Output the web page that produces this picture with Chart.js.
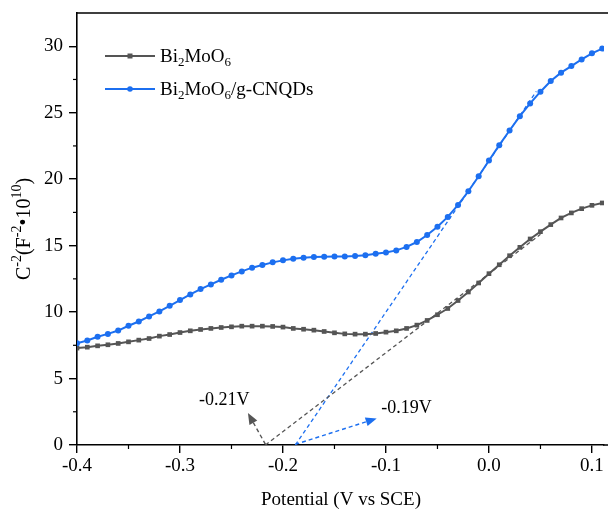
<!DOCTYPE html>
<html>
<head>
<meta charset="utf-8">
<script src="https://cdn.jsdelivr.net/npm/chart.js@4.4.1/dist/chart.umd.min.js"></script>
<style>
  html, body { margin: 0; padding: 0; background: #fff; }
  #wrap { width: 608px; height: 517px; }
</style>
</head>
<body>
<div id="wrap"><canvas id="myChart" width="608" height="517"></canvas></div>
<script>
// potential (V vs SCE)
const potential = [-0.40, -0.39, -0.38, -0.37, -0.36, -0.35, -0.34, -0.33, -0.32, -0.31,
  -0.30, -0.29, -0.28, -0.27, -0.26, -0.25, -0.24, -0.23, -0.22, -0.21,
  -0.20, -0.19, -0.18, -0.17, -0.16, -0.15, -0.14, -0.13, -0.12, -0.11,
  -0.10, -0.09, -0.08, -0.07, -0.06, -0.05, -0.04, -0.03, -0.02, -0.01,
  0.00, 0.01, 0.02, 0.03, 0.04, 0.05, 0.06, 0.07, 0.08, 0.09, 0.10, 0.11];

const bi2moo6 = [7.29, 7.36, 7.46, 7.54, 7.64, 7.76, 7.89, 8.01, 8.19, 8.31,
  8.46, 8.59, 8.69, 8.77, 8.84, 8.89, 8.94, 8.94, 8.94, 8.92,
  8.87, 8.77, 8.71, 8.64, 8.54, 8.44, 8.36, 8.34, 8.34, 8.39,
  8.49, 8.59, 8.77, 9.02, 9.37, 9.80, 10.27, 10.87, 11.51, 12.19,
  12.89, 13.56, 14.24, 14.87, 15.50, 16.05, 16.58, 17.08, 17.46, 17.78, 18.03, 18.21];

const bi2moo6Cnqds = [7.66, 7.86, 8.14, 8.36, 8.61, 8.97, 9.29, 9.67, 10.05, 10.47,
  10.90, 11.33, 11.73, 12.08, 12.43, 12.76, 13.06, 13.34, 13.54, 13.74,
  13.89, 14.02, 14.09, 14.14, 14.17, 14.19, 14.19, 14.22, 14.27, 14.39,
  14.49, 14.64, 14.90, 15.27, 15.80, 16.42, 17.16, 18.06, 19.09, 20.22,
  21.40, 22.56, 23.66, 24.74, 25.70, 26.58, 27.38, 28.01, 28.51, 29.01, 29.47, 29.82];

// tangent lines [x, y]
const grayTangent = [[-0.217, 0], [0.05, 15.85]];
const blueTangent = [[-0.188, 0], [0.046, 26.6]];

// arrows: from, to
const grayArrow = [[-0.217, 0.05], [-0.234, 2.4]];
const blueArrow = [[-0.188, 0.05], [-0.109, 2.0]];

// annotation labels [text, x, y]
const annoLabels = [['-0.21V', -0.257, 3.39], ['-0.19V', -0.080, 2.79]];

const xTicks = [-0.4, -0.3, -0.2, -0.1, 0.0, 0.1];
const yTicks = [0, 5, 10, 15, 20, 25, 30];

const GRAY = '#555555';
const BLUE = '#1c6ff0';
const FONT = '"Liberation Serif", "Times New Roman", serif';

function toXY(arr) {
  return arr.map(function (p) { return { x: p[0], y: p[1] }; });
}

// draws text with sub/superscript parts: [text, kind] kind 0 normal, 1 sub, 2 sup
function drawRich(ctx, parts, x, y, size) {
  let cx = x;
  parts.forEach(function (p) {
    const small = p[1] !== 0;
    ctx.font = (small ? Math.round(size * 0.68) : size) + 'px ' + FONT;
    let dy = 0;
    if (p[1] === 1) dy = size * 0.3;
    if (p[1] === 2) dy = -size * 0.38;
    ctx.fillText(p[0], cx, y + dy);
    cx += ctx.measureText(p[0]).width;
  });
  return cx - x;
}
function richWidth(ctx, parts, size) {
  let w = 0;
  parts.forEach(function (p) {
    ctx.font = (p[1] !== 0 ? Math.round(size * 0.68) : size) + 'px ' + FONT;
    w += ctx.measureText(p[0]).width;
  });
  return w;
}

function arrow(ctx, from, to, color) {
  const ang = Math.atan2(to[1] - from[1], to[0] - from[0]);
  const len = 11, half = 4.5;
  const bx = to[0] - len * Math.cos(ang), by = to[1] - len * Math.sin(ang);
  ctx.strokeStyle = color;
  ctx.lineWidth = 1.4;
  ctx.setLineDash([4, 3]);
  ctx.beginPath();
  ctx.moveTo(from[0], from[1]);
  ctx.lineTo(bx, by);
  ctx.stroke();
  ctx.setLineDash([]);
  ctx.fillStyle = color;
  ctx.beginPath();
  ctx.moveTo(to[0], to[1]);
  ctx.lineTo(bx + half * Math.sin(ang), by - half * Math.cos(ang));
  ctx.lineTo(bx - half * Math.sin(ang), by + half * Math.cos(ang));
  ctx.closePath();
  ctx.fill();
}

const extras = {
  id: 'extras',
  afterDraw(chart) {
    const ctx = chart.ctx;
    const xs = chart.scales.x, ys = chart.scales.y;
    const area = chart.chartArea;
    ctx.save();

    // top frame line, and bottom axis carried to the canvas edge
    ctx.strokeStyle = '#000';
    ctx.lineWidth = 1.6;
    ctx.beginPath();
    ctx.moveTo(area.left, area.top);
    ctx.lineTo(chart.width, area.top);
    ctx.moveTo(area.right - 1, area.bottom);
    ctx.lineTo(chart.width, area.bottom);
    ctx.stroke();

    // minor ticks
    ctx.lineWidth = 1.2;
    for (let i = 0; i < xTicks.length; i++) {
      const v = xTicks[i] + 0.05;
      const px = xs.getPixelForValue(v);
      if (px > chart.width) continue;
      ctx.beginPath();
      ctx.moveTo(px, area.bottom);
      ctx.lineTo(px, area.bottom + 4);
      ctx.stroke();
    }
    for (let i = 0; i < yTicks.length; i++) {
      const py = ys.getPixelForValue(yTicks[i] + 2.5);
      if (py < area.top + 2) continue;
      ctx.beginPath();
      ctx.moveTo(area.left, py);
      ctx.lineTo(area.left - 4, py);
      ctx.stroke();
    }

    // arrows
    const P = function (p) { return [xs.getPixelForValue(p[0]), ys.getPixelForValue(p[1])]; };
    arrow(ctx, P(grayArrow[0]), P(grayArrow[1]), GRAY);
    arrow(ctx, P(blueArrow[0]), P(blueArrow[1]), BLUE);

    // annotation labels
    ctx.fillStyle = '#000';
    ctx.font = '18px ' + FONT;
    ctx.textAlign = 'center';
    ctx.textBaseline = 'middle';
    annoLabels.forEach(function (l) {
      ctx.fillText(l[0], xs.getPixelForValue(l[1]), ys.getPixelForValue(l[2]));
    });

    // legend
    ctx.textAlign = 'left';
    ctx.textBaseline = 'middle';
    const legend = [
      { color: GRAY, style: 'rect', y: 56, parts: [['Bi', 0], ['2', 1], ['MoO', 0], ['6', 1]] },
      { color: BLUE, style: 'circle', y: 89, parts: [['Bi', 0], ['2', 1], ['MoO', 0], ['6', 1], ['/g-CNQDs', 0]] }
    ];
    legend.forEach(function (it) {
      ctx.strokeStyle = it.color;
      ctx.fillStyle = it.color;
      ctx.lineWidth = 2;
      ctx.beginPath();
      ctx.moveTo(105, it.y);
      ctx.lineTo(155, it.y);
      ctx.stroke();
      ctx.beginPath();
      if (it.style === 'rect') ctx.rect(127.5, it.y - 2.5, 5, 5);
      else ctx.arc(130, it.y, 2.8, 0, Math.PI * 2);
      ctx.fill();
      ctx.fillStyle = '#000';
      drawRich(ctx, it.parts, 160, it.y + 1, 19);
    });

    // x title
    ctx.fillStyle = '#000';
    ctx.font = '19px ' + FONT;
    ctx.textAlign = 'center';
    ctx.fillText('Potential (V vs SCE)', 341, 500);

    // y title
    const yParts = [['C', 0], ['-2', 2], ['(F', 0], ['-2', 2], ['\u202210', 0], ['10', 2], [')', 0]];
    ctx.save();
    ctx.translate(23, (area.top + area.bottom) / 2);
    ctx.rotate(-Math.PI / 2);
    ctx.textAlign = 'left';
    const w = richWidth(ctx, yParts, 20);
    drawRich(ctx, yParts, -w / 2, 2, 20);
    ctx.restore();

    ctx.restore();
  }
};

const ctx = document.getElementById('myChart');

new Chart(ctx, {
  type: 'scatter',
  data: {
    datasets: [
      {
        label: 'Bi2MoO6',
        data: potential.map(function (x, i) { return { x: x, y: bi2moo6[i] }; }),
        showLine: true,
        borderColor: GRAY,
        backgroundColor: GRAY,
        borderWidth: 2,
        pointStyle: 'rect',
        pointRadius: 3.3,
        pointBorderWidth: 0,
        order: 2
      },
      {
        label: 'Bi2MoO6/g-CNQDs',
        data: potential.map(function (x, i) { return { x: x, y: bi2moo6Cnqds[i] }; }),
        showLine: true,
        borderColor: BLUE,
        backgroundColor: BLUE,
        borderWidth: 2,
        pointStyle: 'circle',
        pointRadius: 3,
        pointBorderWidth: 0,
        order: 1
      },
      {
        label: 'tangent gray',
        data: toXY(grayTangent),
        showLine: true,
        borderColor: GRAY,
        borderWidth: 1.3,
        borderDash: [4, 3],
        pointRadius: 0,
        order: 3
      },
      {
        label: 'tangent blue',
        data: toXY(blueTangent),
        showLine: true,
        borderColor: BLUE,
        borderWidth: 1.3,
        borderDash: [4, 3],
        pointRadius: 0,
        order: 3
      }
    ]
  },
  options: {
    responsive: false,
    animation: false,
    events: [],
    layout: { padding: { top: 13, right: 0, left: 0, bottom: 0 } },
    plugins: {
      legend: { display: false },
      tooltip: { enabled: false },
      title: { display: false }
    },
    scales: {
      x: {
        type: 'linear',
        min: -0.4,
        max: 0.1117,
        afterFit: function (s) { s.height = 72; s.paddingLeft = 0; s.paddingRight = 0; },
        afterBuildTicks: function (s) { s.ticks = xTicks.map(function (v) { return { value: v }; }); },
        ticks: {
          color: '#000',
          font: { family: FONT, size: 19 },
          padding: 2,
          maxRotation: 0,
          callback: function (v) { return v.toFixed(1); }
        },
        grid: { drawOnChartArea: false, drawTicks: true, tickLength: 8, color: '#000', lineWidth: 1.4 },
        border: { display: true, color: '#000', width: 1.6 }
      },
      y: {
        type: 'linear',
        min: 0,
        max: 32.5,
        afterFit: function (s) { s.width = 77; s.paddingTop = 0; s.paddingBottom = 0; },
        afterBuildTicks: function (s) { s.ticks = yTicks.map(function (v) { return { value: v }; }); },
        ticks: {
          color: '#000',
          font: { family: FONT, size: 19 },
          padding: 6
        },
        grid: { drawOnChartArea: false, drawTicks: true, tickLength: 8, color: '#000', lineWidth: 1.4 },
        border: { display: true, color: '#000', width: 1.6 }
      }
    }
  },
  plugins: [extras]
});
</script>
</body>
</html>
